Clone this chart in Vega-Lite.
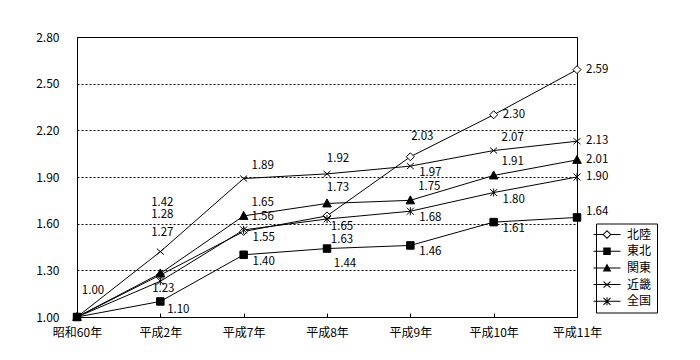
{
  "$schema": "https://vega.github.io/schema/vega-lite/v6.json",
  "width": 500,
  "height": 280,
  "autosize": {"type": "none"},
  "padding": {"left": 77, "top": 37, "right": 123, "bottom": 43},
  "background": "white",
  "config": {
    "view": {"stroke": "black", "strokeWidth": 1},
    "font": "Noto Sans CJK JP",
    "text": {"font": "Noto Sans CJK JP", "fontSize": 11.5, "color": "black"}
  },
  "data": {
    "values": [
      {"year": "昭和60年", "series": "北陸", "value": 1.00},
      {"year": "平成2年", "series": "北陸", "value": 1.27},
      {"year": "平成7年", "series": "北陸", "value": 1.55},
      {"year": "平成8年", "series": "北陸", "value": 1.65},
      {"year": "平成9年", "series": "北陸", "value": 2.03},
      {"year": "平成10年", "series": "北陸", "value": 2.30},
      {"year": "平成11年", "series": "北陸", "value": 2.59},
      {"year": "昭和60年", "series": "関東", "value": 1.00},
      {"year": "平成2年", "series": "関東", "value": 1.28},
      {"year": "平成7年", "series": "関東", "value": 1.65},
      {"year": "平成8年", "series": "関東", "value": 1.73},
      {"year": "平成9年", "series": "関東", "value": 1.75},
      {"year": "平成10年", "series": "関東", "value": 1.91},
      {"year": "平成11年", "series": "関東", "value": 2.01},
      {"year": "昭和60年", "series": "近畿", "value": 1.00},
      {"year": "平成2年", "series": "近畿", "value": 1.42},
      {"year": "平成7年", "series": "近畿", "value": 1.89},
      {"year": "平成8年", "series": "近畿", "value": 1.92},
      {"year": "平成9年", "series": "近畿", "value": 1.97},
      {"year": "平成10年", "series": "近畿", "value": 2.07},
      {"year": "平成11年", "series": "近畿", "value": 2.13},
      {"year": "昭和60年", "series": "全国", "value": 1.00},
      {"year": "平成2年", "series": "全国", "value": 1.23},
      {"year": "平成7年", "series": "全国", "value": 1.56},
      {"year": "平成8年", "series": "全国", "value": 1.63},
      {"year": "平成9年", "series": "全国", "value": 1.68},
      {"year": "平成10年", "series": "全国", "value": 1.80},
      {"year": "平成11年", "series": "全国", "value": 1.90},
      {"year": "昭和60年", "series": "東北", "value": 1.00},
      {"year": "平成2年", "series": "東北", "value": 1.10},
      {"year": "平成7年", "series": "東北", "value": 1.40},
      {"year": "平成8年", "series": "東北", "value": 1.44},
      {"year": "平成9年", "series": "東北", "value": 1.46},
      {"year": "平成10年", "series": "東北", "value": 1.61},
      {"year": "平成11年", "series": "東北", "value": 1.64}
    ]
  },
  "resolve": {"scale": {"shape": "independent", "fill": "independent"}},
  "encoding": {
    "x": {
      "field": "year", "type": "ordinal",
      "scale": {"type": "point", "padding": 0, "domain": ["昭和60年", "平成2年", "平成7年", "平成8年", "平成9年", "平成10年", "平成11年"]},
      "axis": {"title": null, "labelAngle": 0, "grid": false, "domainColor": "black", "tickColor": "black", "tickSize": -4, "labelPadding": 14, "labelFontSize": 12, "labelColor": "black", "labelFont": "Noto Sans CJK JP"}
    },
    "y": {
      "field": "value", "type": "quantitative",
      "scale": {"domain": [1, 2.8], "nice": false, "zero": false},
      "axis": {"title": null, "values": [1.0, 1.3, 1.6, 1.9, 2.2, 2.5, 2.8], "format": ".2f", "ticks": false, "labelPadding": 18, "domainColor": "black", "grid": true, "gridColor": "black", "gridDash": [2, 2], "gridOpacity": 1, "gridWidth": 1, "labelFontSize": 12, "labelColor": "black", "labelFont": "Noto Sans CJK JP"}
    }
  },
  "layer": [
    {
      "mark": {"type": "line", "color": "black", "strokeWidth": 1},
      "encoding": {"detail": {"field": "series"}}
    },
    {
      "mark": {"type": "point", "stroke": "black", "strokeWidth": 1, "opacity": 1, "size": 100},
      "encoding": {
        "shape": {
          "field": "series", "type": "nominal",
          "scale": {
            "domain": ["北陸", "東北", "関東", "近畿", "全国"],
            "range": [
              "M0,-0.8L0.8,0L0,0.8L-0.8,0Z",
              "M-0.75,-0.75L0.75,-0.75L0.75,0.75L-0.75,0.75Z",
              "M0,-0.9L0.85,0.7L-0.85,0.7Z",
              "M-0.7,-0.6L0.7,0.6M-0.7,0.6L0.7,-0.6",
              "M-0.7,-0.7L0.7,0.7M-0.7,0.7L0.7,-0.7M0,-0.8L0,0.8"
            ]
          },
          "legend": null
        },
        "fill": {
          "field": "series", "type": "nominal",
          "scale": {"domain": ["北陸", "東北", "関東", "近畿", "全国"], "range": ["white", "black", "black", "transparent", "transparent"]},
          "legend": null
        }
      }
    },
    {
      "transform": [{"filter": "datum.value < 0"}],
      "mark": {"type": "point", "filled": true, "color": "black", "opacity": 1},
      "encoding": {
        "shape": {
          "field": "series", "type": "nominal",
          "scale": {
            "domain": ["北陸", "東北", "関東", "近畿", "全国"],
            "range": [
              "M0,-0.9L0.9,0L0,0.9L-0.9,0ZM0,-0.62L-0.62,0L0,0.62L0.62,0ZM-2.7,-0.1L-0.85,-0.1L-0.85,0.1L-2.7,0.1ZM0.85,-0.1L2.7,-0.1L2.7,0.1L0.85,0.1Z",
              "M-2.7,-0.1L2.7,-0.1L2.7,0.1L-2.7,0.1ZM-0.75,-0.75L0.75,-0.75L0.75,0.75L-0.75,0.75Z",
              "M-2.7,-0.1L2.7,-0.1L2.7,0.1L-2.7,0.1ZM0,-0.9L0.85,0.7L-0.85,0.7Z",
              "M-2.7,-0.1L-2.7,0.1L2.7,0.1L2.7,-0.1ZM-0.765,-0.524L0.635,0.676L0.765,0.524L-0.635,-0.676ZM-0.635,0.676L0.765,-0.524L0.635,-0.676L-0.765,0.524Z",
              "M-2.7,-0.1L-2.7,0.1L2.7,0.1L2.7,-0.1ZM-0.775,-0.625L0.625,0.775L0.775,0.625L-0.625,-0.775ZM-0.625,0.775L0.775,-0.625L0.625,-0.775L-0.775,0.625ZM-0.1,-0.8L-0.1,0.8L0.1,0.8L0.1,-0.8Z"
            ]
          },
          "legend": {
            "orient": "none", "legendX": 519, "legendY": 186.5, "title": null,
            "padding": 5, "strokeColor": "black", "fillColor": "white",
            "symbolSize": 100, "symbolOffset": 0, "labelOffset": 14, "rowPadding": 4.7,
            "labelFontSize": 12, "labelFont": "Noto Sans CJK JP", "labelColor": "black",
            "symbolOpacity": 1, "symbolFillColor": "black", "symbolStrokeWidth": 0
          }
        }
      }
    },
    {
      "transform": [{"filter": "datum.year === '平成11年' && datum.series !== '東北' || (datum.year === '平成10年' && datum.series === '北陸')"}],
      "mark": {"type": "text", "align": "left", "baseline": "middle", "dx": 9, "dy": 0},
      "encoding": {"text": {"field": "value", "format": ".2f"}}
    },
    {
      "transform": [{"filter": "datum.year === '平成11年' && datum.series === '東北'"}],
      "mark": {"type": "text", "align": "left", "baseline": "middle", "dx": 9, "dy": -5},
      "encoding": {"text": {"field": "value", "format": ".2f"}}
    },
    {
      "transform": [{"filter": "indexof(['平成10年|近畿','平成10年|関東','平成9年|関東','平成7年|関東','平成7年|全国','平成7年|近畿'], datum.year + '|' + datum.series) >= 0"}],
      "mark": {"type": "text", "align": "center", "baseline": "middle", "dx": 19, "dy": -13},
      "encoding": {"text": {"field": "value", "format": ".2f"}}
    },
    {
      "transform": [{"filter": "indexof(['平成10年|全国','平成10年|東北','平成9年|近畿','平成9年|全国','平成9年|東北','平成7年|北陸','平成7年|東北'], datum.year + '|' + datum.series) >= 0"}],
      "mark": {"type": "text", "align": "center", "baseline": "middle", "dx": 20, "dy": 7},
      "encoding": {"text": {"field": "value", "format": ".2f"}}
    },
    {
      "transform": [{"filter": "indexof(['平成8年|近畿','平成8年|関東'], datum.year + '|' + datum.series) >= 0"}],
      "mark": {"type": "text", "align": "center", "baseline": "middle", "dx": 11, "dy": -15},
      "encoding": {"text": {"field": "value", "format": ".2f"}}
    },
    {
      "transform": [{"filter": "datum.year === '平成8年' && datum.series === '北陸'"}],
      "mark": {"type": "text", "align": "center", "baseline": "middle", "dx": 15, "dy": 11},
      "encoding": {"text": {"field": "value", "format": ".2f"}}
    },
    {
      "transform": [{"filter": "datum.year === '平成8年' && datum.series === '全国'"}],
      "mark": {"type": "text", "align": "center", "baseline": "middle", "dx": 15, "dy": 21},
      "encoding": {"text": {"field": "value", "format": ".2f"}}
    },
    {
      "transform": [{"filter": "datum.year === '平成8年' && datum.series === '東北'"}],
      "mark": {"type": "text", "align": "center", "baseline": "middle", "dx": 18, "dy": 15},
      "encoding": {"text": {"field": "value", "format": ".2f"}}
    },
    {
      "transform": [{"filter": "datum.year === '平成9年' && datum.series === '北陸'"}],
      "mark": {"type": "text", "align": "center", "baseline": "middle", "dx": 12, "dy": -20},
      "encoding": {"text": {"field": "value", "format": ".2f"}}
    },
    {
      "transform": [{"filter": "datum.year === '平成2年' && datum.series === '近畿'"}],
      "mark": {"type": "text", "align": "center", "baseline": "middle", "dx": 2, "dy": -49},
      "encoding": {"text": {"field": "value", "format": ".2f"}}
    },
    {
      "transform": [{"filter": "datum.year === '平成2年' && datum.series === '関東'"}],
      "mark": {"type": "text", "align": "center", "baseline": "middle", "dx": 2, "dy": -58},
      "encoding": {"text": {"field": "value", "format": ".2f"}}
    },
    {
      "transform": [{"filter": "datum.year === '平成2年' && datum.series === '北陸'"}],
      "mark": {"type": "text", "align": "center", "baseline": "middle", "dx": 2, "dy": -42},
      "encoding": {"text": {"field": "value", "format": ".2f"}}
    },
    {
      "transform": [{"filter": "datum.year === '平成2年' && datum.series === '全国'"}],
      "mark": {"type": "text", "align": "center", "baseline": "middle", "dx": 3, "dy": 8},
      "encoding": {"text": {"field": "value", "format": ".2f"}}
    },
    {
      "transform": [{"filter": "datum.year === '平成2年' && datum.series === '東北'"}],
      "mark": {"type": "text", "align": "center", "baseline": "middle", "dx": 18, "dy": 9},
      "encoding": {"text": {"field": "value", "format": ".2f"}}
    },
    {
      "transform": [{"filter": "datum.year === '昭和60年' && datum.series === '北陸'"}],
      "mark": {"type": "text", "align": "center", "baseline": "middle", "dx": 16, "dy": -26},
      "encoding": {"text": {"field": "value", "format": ".2f"}}
    }
  ]
}
